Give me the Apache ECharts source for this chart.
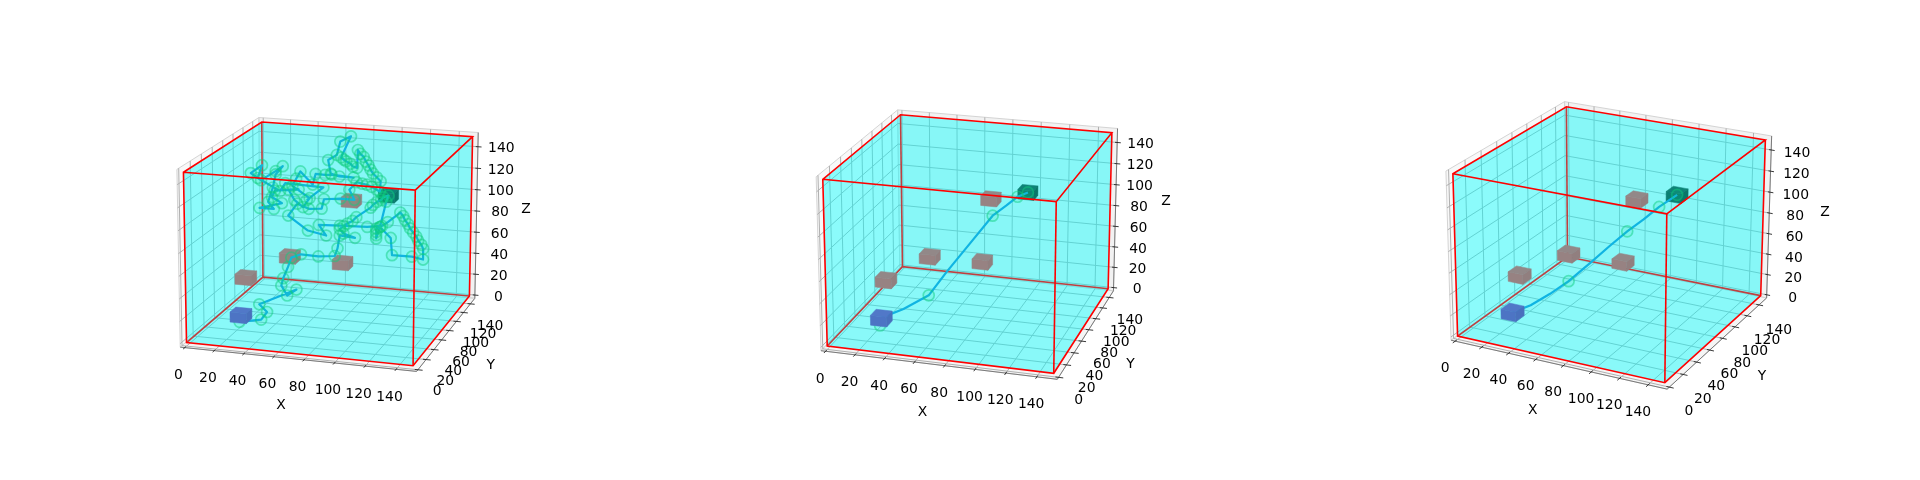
<!DOCTYPE html>
<html><head><meta charset="utf-8"><style>html,body{margin:0;background:#fff}#c{width:1920px;height:480px}</style></head>
<body><div id="c"></div>
<script src="https://cdn.jsdelivr.net/npm/echarts@6/dist/echarts.min.js"></script>
<script>
// ---- data ----
const ticks=[0,20,40,60,80,100,120,140];
const boxMax=150;
const startPoint=[30,20,20];
const goalPoint=[100,120,100];
const obstacleX=[50,80,80,30];
const obstacleY=[60,80,100,30];
const obstacleZ=[60,50,100,50];

const path1X=[29,43,46,39,61,54,48,48,50,51,57,67,77,78,78,87,79,75,77,79,82,84,91,92,94,96,97,100,99,97,95,
95,95,95,97,104,105,118,125,125,124,122,121,119,117,116,114,113,111,103,99,91,75,62,68,56,43,48,55,63,64,
74,82,77,80,83,86,89,92,94,93,90,87,85,83,81,79,76,74,75,72,70,67,65,63,67,60,60,56,60,67,
77,63,60,55,53,46,43,42,54,50,44,41,48,33,31,38,24,33,29,31,32,36,31,20,11,19,17,34,37,62,52];
const path1Y=[20,22,25,30,40,42,48,52,56,60,62,68,72,75,80,85,85,90,92,94,96,98,108,110,113,116,118,120,118,110,108,
108,108,108,110,112,112,115,118,118,117,116,115,114,113,112,111,110,110,108,108,100,90,85,82,80,78,82,85,88,90,
95,100,105,112,115,116,117,119,120,125,126,127,128,130,131,132,134,135,130,130,131,131,132,132,142,140,132,125,118,115,
115,110,105,100,100,95,95,90,90,88,88,85,85,80,80,80,75,78,78,82,85,88,88,90,95,95,92,88,90,95,90];
const path1Z=[14,17,23,27,39,32,38,43,52,59,62,59,59,65,75,72,75,77,79,81,83,86,92,94,96,97,99,100,95,74,73,
70,67,64,74,64,48,47,44,54,58,62,66,70,74,78,82,86,89,80,76,77,80,81,73,77,90,100,95,95,103,
103,101,108,113,111,110,108,105,103,111,114,117,120,123,126,130,132,135,120,121,123,125,126,128,145,140,130,127,117,116,
116,119,120,122,112,125,118,113,103,95,101,111,112,111,105,100,96,95,101,113,124,131,126,116,120,128,117,108,115,112,101];

const path2X=[29,29,41,54,63,75,87,93,97,100];
const path2Y=[20,22,32,45,55,68,80,92,105,120];
const path2Z=[13,19,24,32,50,72,94,99,102,100];
const way2=[0,3,6,8,9];

const path3X=[30,39,48,58,68,76,83,89,94,100];
const path3Y=[20,28,38,45,56,68,80,92,105,120];
const path3Z=[20,25,33,44,58,70,80,87,94,100];
const way3=[0,3,6,8,9];

// ---- layout: where the eight box corners fall in each panel (panel pixels) ----
const panelLeft=[0,640,1280];
const boxCornersWorld=[[0,0,1],[0,0,0],[1,0,0],[1,0,1],[0,1,1],[0,1,0],[1,1,0],[1,1,1]];
const boxCornersPx=[
 [[183.3,172.3],[186.7,342.7],[413.3,365.7],[415,190],[262,122],[262.7,277],[469.3,296],[472.7,136.7]],
 [[182.7,179.3],[187.3,346],[414,373.3],[416,201.7],[260.7,114.7],[262.3,266.7],[468,288.7],[472,132.7]],
 [[172.7,174],[177.7,336],[385,382.7],[386.7,213.7],[286.7,106.7],[287.3,256.7],[480.7,295.7],[485.3,140]]];
const tickOffset=[
 {x:[-8,33],y:[24,26],z:[29,1]},
 {x:[-7,33],y:[25,27],z:[29,1]},
 {x:[-12.5,32.5],y:[24,29],z:[32,3]}];
const nameOffset=[
 {x:[-17,51],y:[48,36],z:[55,-8]},
 {x:[-16,53],y:[48,36],z:[56,-10]},
 {x:[-26,52],y:[47,39],z:[62,-7]}];

// ---- projective camera from the box corners ----
function solve(A,b){const n=A.length,M=A.map((r,i)=>[...r,b[i]]);for(let i=0;i<n;i++){let p=i;for(let k=i;k<n;k++)if(Math.abs(M[k][i])>Math.abs(M[p][i]))p=k;[M[i],M[p]]=[M[p],M[i]];for(let k=0;k<n;k++)if(k!==i){const f=M[k][i]/M[i][i];for(let j=i;j<=n;j++)M[k][j]-=f*M[i][j];}}return M.map((r,i)=>r[n]/r[i]);}
function lsq(R,d){const n=R[0].length,A=[],b=[];for(let i=0;i<n;i++){A.push([]);let s=0;for(let j=0;j<n;j++){let t=0;R.forEach(r=>t+=r[i]*r[j]);A[i].push(t);}R.forEach((r,k)=>s+=r[i]*d[k]);b.push(s);}return solve(A,b);}
function camera(px){const R=[],d=[];boxCornersWorld.forEach((c,i)=>{const [x,y,z]=c,[u,v]=px[i];R.push([x,y,z,1,0,0,0,0,-u*x,-u*y,-u*z]);d.push(u);R.push([0,0,0,0,x,y,z,1,-v*x,-v*y,-v*z]);d.push(v);});return lsq(R,d);}
const cams=boxCornersPx.map(camera);
function project(p,pt){const m=cams[p],x=pt[0]/boxMax,y=pt[1]/boxMax,z=pt[2]/boxMax,w=m[8]*x+m[9]*y+m[10]*z+1;return [(m[0]*x+m[1]*y+m[2]*z+m[3])/w,(m[4]*x+m[5]*y+m[6]*z+m[7])/w];}

// ---- styles ----
const lo=-3.125,hi=boxMax+3.125,M=boxMax;
const FONT="13.9px 'DejaVu Sans'";
const greyFaces=['#928888','#978282','#917f7f'];
const blueFaces=['#5178c8','#4d74c4','#4970bd'];
const goalFaces=['#0d8377','#0a7f73','#087669'];

function layer(p,items,z){
  return {type:'custom',coordinateSystem:'cartesian2d',xAxisIndex:p,yAxisIndex:p,silent:true,clip:false,z,animation:false,
    data:items.map((_,i)=>[i,0]),
    renderItem:(params,api)=>{
      const it=items[api.value(0)];
      const c=q=>api.coord(project(p,q));
      if(it.text!==undefined){const q=c(it.at);return {type:'text',style:{text:it.text,x:q[0]+it.off[0],y:q[1]+it.off[1],fill:'#000',font:FONT,align:'center',verticalAlign:'middle'}};}
      if(it.fill)return {type:'polygon',shape:{points:it.pts.map(c)},style:{fill:it.fill,stroke:it.stroke||null,lineWidth:it.lw||0}};
      return {type:'polyline',shape:{points:it.pts.map(c)},style:{fill:null,stroke:it.stroke,lineWidth:it.lw}};
    }};
}
function cubeFaces(cx,cy,cz,faces,h,hz){
  const a=[cx-h,cy-h,cz-hz],b=[cx+h,cy+h,cz+hz];
  return [
   {fill:faces[0],stroke:faces[0],lw:.5,pts:[[a[0],a[1],b[2]],[b[0],a[1],b[2]],[b[0],b[1],b[2]],[a[0],b[1],b[2]]]},
   {fill:faces[1],stroke:faces[1],lw:.5,pts:[[a[0],a[1],a[2]],[b[0],a[1],a[2]],[b[0],a[1],b[2]],[a[0],a[1],b[2]]]},
   {fill:faces[2],stroke:faces[2],lw:.5,pts:[[b[0],a[1],a[2]],[b[0],b[1],a[2]],[b[0],b[1],b[2]],[b[0],a[1],b[2]]]}];
}
const HALF=5.5,HALFZ=4.5;
const series=[],grids=[],xAxes=[],yAxes=[];
const paths=[
 {x:path1X,y:path1Y,z:path1Z,way:path1X.map((_,i)=>i)},
 {x:path2X,y:path2Y,z:path2Z,way:way2},
 {x:path3X,y:path3Y,z:path3Z,way:way3}];

paths.forEach((path,p)=>{
  grids.push({left:panelLeft[p],top:0,width:640,height:480,show:false});
  xAxes.push({type:'value',gridIndex:p,min:0,max:640,show:false});
  yAxes.push({type:'value',gridIndex:p,min:0,max:480,inverse:true,show:false});
  const gridC='#b0b0b0',PE='#d4d4d4';
  series.push(layer(p,[
    {fill:'rgba(242,242,242,0.5)',stroke:PE,lw:1,pts:[[lo,lo,lo],[lo,hi,lo],[lo,hi,hi],[lo,lo,hi]]},
    {fill:'rgba(230,230,230,0.5)',stroke:PE,lw:1,pts:[[lo,hi,lo],[hi,hi,lo],[hi,hi,hi],[lo,hi,hi]]},
    {fill:'rgba(236,236,236,0.5)',stroke:PE,lw:1,pts:[[lo,lo,lo],[hi,lo,lo],[hi,hi,lo],[lo,hi,lo]]}],1));
  const gl=[];
  ticks.forEach(v=>{
    gl.push({stroke:gridC,lw:1,pts:[[v,lo,lo],[v,hi,lo],[v,hi,hi]]});
    gl.push({stroke:gridC,lw:1,pts:[[hi,v,lo],[lo,v,lo],[lo,v,hi]]});
    gl.push({stroke:gridC,lw:1,pts:[[lo,lo,v],[lo,hi,v],[hi,hi,v]]});
  });
  gl.push({stroke:'#7a7a7a',lw:1,pts:[[lo,lo,lo],[hi,lo,lo]]});
  gl.push({stroke:'#7a7a7a',lw:1,pts:[[hi,lo,lo],[hi,hi,lo]]});
  gl.push({stroke:'#7a7a7a',lw:1,pts:[[hi,hi,lo],[hi,hi,hi]]});
  ticks.forEach(v=>{
    gl.push({stroke:'#222',lw:.9,pts:[[v,lo-3,lo],[v,lo+2,lo]]});
    gl.push({stroke:'#222',lw:.9,pts:[[hi-2,v,lo],[hi+3,v,lo]]});
    gl.push({stroke:'#222',lw:.9,pts:[[hi-1.5,hi,v],[hi+2.5,hi,v]]});
  });
  series.push(layer(p,gl,2));
  const hull=[[0,0,0],[M,0,0],[M,M,0],[M,M,M],[0,M,M],[0,0,M]];
  series.push(layer(p,[{fill:'rgba(0,255,255,0.25)',pts:hull}],3));
  series.push(layer(p,[
    {stroke:'#ff0000',lw:1.6,pts:[[0,0,0],[0,M,0],[M,M,0]]},
    {stroke:'#ff0000',lw:1.6,pts:[[0,M,0],[0,M,M]]}],4));
  series.push(layer(p,[{fill:'rgba(0,255,255,0.25)',pts:hull}],5));
  let cubes=[];
  obstacleX.forEach((x,i)=>cubes=cubes.concat(cubeFaces(x,obstacleY[i],obstacleZ[i],greyFaces,HALF,HALFZ)));
  cubes=cubes.concat(cubeFaces(goalPoint[0],goalPoint[1],goalPoint[2],goalFaces,HALF,HALFZ));
  series.push(layer(p,cubes,6));
  const pts=path.x.map((x,i)=>project(p,[x,path.y[i],path.z[i]]));
  series.push({type:'line',xAxisIndex:p,yAxisIndex:p,data:pts,showSymbol:false,symbol:'none',silent:true,animation:false,z:7,clip:false,
    lineStyle:{color:'#10b4e2',width:2.2,join:'round'}});
  const marks=path.way.map(i=>pts[i]);
  series.push({type:'scatter',xAxisIndex:p,yAxisIndex:p,data:marks,symbol:'circle',symbolSize:11,silent:true,animation:false,z:8,clip:false,
    itemStyle:{color:'rgba(30,225,130,0.13)',borderColor:'rgba(15,205,125,0.6)',borderWidth:1.7}});
  series.push(layer(p,cubeFaces(startPoint[0],startPoint[1],startPoint[2],blueFaces,HALF,HALFZ),9));
  series.push(layer(p,[
    {stroke:'#ff0000',lw:1.6,pts:[[0,0,M],[M,0,M],[M,M,M],[0,M,M],[0,0,M],[0,0,0],[M,0,0],[M,M,0],[M,M,M]]},
    {stroke:'#ff0000',lw:1.6,pts:[[M,0,0],[M,0,M]]}],10));
  const off=tickOffset[p],nm=nameOffset[p],tx=[];
  ticks.forEach(v=>{
    tx.push({text:String(v),at:[v,0,0],off:off.x});
    tx.push({text:String(v),at:[M,v,0],off:off.y});
    tx.push({text:String(v),at:[M,M,v],off:off.z});
  });
  tx.push({text:'X',at:[M/2,0,0],off:nm.x});
  tx.push({text:'Y',at:[M,M/2,0],off:nm.y});
  tx.push({text:'Z',at:[M,M,M/2],off:nm.z});
  series.push(layer(p,tx,11));
});

const chart=echarts.init(document.getElementById('c'),null,{renderer:'canvas'});
chart.setOption({animation:false,backgroundColor:'#fff',grid:grids,xAxis:xAxes,yAxis:yAxes,series});
</script></body></html>
